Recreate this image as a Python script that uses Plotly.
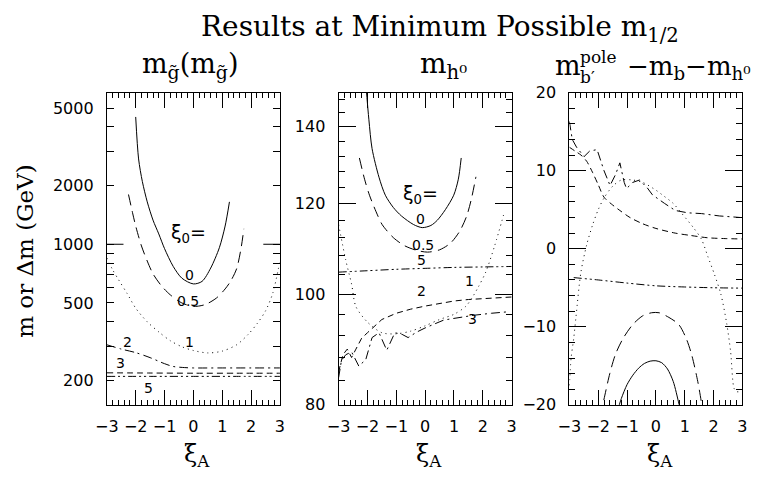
import math
import plotly.graph_objects as go

# ---------------- data: panel 1, gluino mass m_g~(m_g~) [GeV] ----------------
xi_g0 = [-2.0, -1.9, -1.77, -1.6, -1.4, -1.2, -1.0, -0.7, -0.4, 0.0, 0.3, 0.6, 0.9, 1.1, 1.25]
m_g0 = [4500, 2740, 2100, 1650, 1330, 1130, 950, 770, 670, 626, 645, 755, 960, 1240, 1650]

xi_g05 = [-2.25, -2.1, -2.0, -1.8, -1.6, -1.4, -1.1, -0.8, -0.4, 0.0, 0.4, 0.8, 1.1, 1.3, 1.5, 1.65, 1.75]
m_g05 = [1800, 1430, 1240, 980, 820, 705, 610, 550, 500, 480, 490, 530, 590, 650, 750, 950, 1200]

xi_g1 = [-3.0, -2.8, -2.6, -2.3, -2.0, -1.6, -1.2, -0.8, -0.4, 0.0, 0.5, 1.0, 1.5, 1.9, 2.2, 2.5, 2.75, 3.0]
m_g1 = [850, 740, 660, 560, 470, 400, 355, 320, 298, 285, 277, 283, 305, 345, 390, 455, 560, 820]

xi_g2 = [-3.0, -2.5, -2.0, -1.5, -1.0, -0.7, -0.3, 0.0, 1.0, 2.0, 3.0]
m_g2 = [305, 290, 278, 262, 244, 236, 233, 232, 232, 232, 232]

xi_g3 = [-3.0, -1.5, 0.0, 1.5, 3.0]
m_g3 = [219, 218.5, 218, 218, 218]

xi_g5 = [-3.0, -1.5, 0.0, 1.5, 3.0]
m_g5 = [210, 210, 210, 210, 210]

# ---------------- data: panel 2, light Higgs mass m_h0 [GeV] ----------------
xi_h0 = [-2.05, -1.95, -1.84, -1.6, -1.38, -1.1, -0.82, -0.4, -0.1, 0.2, 0.42, 0.7, 0.99, 1.15, 1.25]
m_h0 = [152, 142, 134, 126.5, 122, 119, 117, 115, 114.3, 114.8, 116, 118.5, 122, 126, 131.5]

xi_h05 = [-2.28, -2.1, -1.93, -1.7, -1.49, -1.1, -0.71, -0.3, 0.08, 0.5, 0.88, 1.2, 1.44, 1.6, 1.76]
m_h05 = [131.5, 126, 122, 118, 115, 112, 110.2, 109.2, 108.8, 109.3, 110.8, 113.5, 117, 121, 126.6]

xi_h1 = [-3.0, -2.75, -2.55, -2.4, -2.0, -1.5, -1.0, -0.5, 0.0, 0.5, 1.0, 1.4, 1.6, 1.85, 2.1, 2.4, 2.75]
m_h1 = [115, 107, 102, 97.5, 94.5, 92.5, 92.3, 92.8, 93.8, 95, 96, 97.5, 99, 101.5, 104.5, 110, 118]

xi_h2 = [-3.0, -2.85, -2.7, -2.55, -2.4, -2.2, -2.0, -1.8, -1.5, -1.0, -0.5, 0.0, 0.5, 1.0, 1.5, 2.0, 2.5, 3.0]
m_h2 = [85.5, 88.5, 89.5, 88.0, 89.5, 91.5, 92.5, 93.5, 95.0, 96.2, 97.0, 97.6, 98.1, 98.6, 98.9, 99.1, 99.3, 99.4]

xi_h3 = [-3.0, -2.9, -2.75, -2.55, -2.3, -2.06, -1.84, -1.6, -1.33, -1.05, -0.8, -0.59, -0.3, 0.0, 0.65, 1.2, 1.67, 2.3, 2.9]
m_h3 = [84.5, 87.5, 88.5, 89.0, 86.5, 87.6, 91.6, 92.5, 89.3, 92.5, 92.2, 91.6, 92.6, 93.4, 94.9, 95.4, 95.8, 96.2, 96.5]

xi_h5 = [-3.0, -2.0, -1.0, 0.0, 1.0, 2.0, 3.0]
m_h5 = [104.5, 104.8, 105.1, 105.3, 105.5, 105.6, 105.7]

# ---------------- data: panel 3, m_b'^pole - m_b - m_h0 [GeV] ----------------
xi_d0 = [-1.35, -1.2, -1.0, -0.8, -0.6, -0.4, -0.2, 0.0, 0.2, 0.4, 0.6, 0.8, 0.9]
d_0 = [-21.0, -19.2, -17.4, -16.2, -15.3, -14.7, -14.4, -14.35, -14.6, -15.4, -17.0, -19.9, -21.5]

xi_d05 = [-1.95, -1.83, -1.6, -1.4, -1.14, -0.8, -0.46, -0.15, 0.11, 0.45, 0.79, 1.05, 1.24, 1.45, 1.58, 1.65]
d_05 = [-21.5, -19.75, -16.0, -13.5, -11.5, -9.7, -8.6, -8.2, -8.2, -8.8, -9.7, -11.5, -13.6, -17.0, -19.75, -21.5]

xi_d1 = [-3.0, -2.94, -2.85, -2.77, -2.6, -2.4, -2.2, -2.0, -1.8, -1.5, -1.2, -0.8, -0.46, 0.0, 0.22, 0.6,
         0.9, 1.3, 1.58, 1.8, 2.03, 2.25, 2.45, 2.59, 2.71, 2.8, 2.95]
d_1 = [-17.5, -14.0, -11.5, -8.7, -3.0, 0.5, 3.0, 5.0, 6.5, 8.0, 8.8, 8.8, 8.5, 7.5, 6.9, 5.8,
       4.5, 2.7, 1.2, -1.0, -3.3, -5.8, -9.5, -13.2, -17.9, -18.3, -18.3]

xi_d2 = [-3.0, -2.8, -2.6, -2.4, -2.2, -2.0, -1.8, -1.5, -1.25, -0.9, -0.46, 0.0, 0.67, 1.2, 1.8, 2.4, 3.0]
d_2 = [13.0, 12.5, 12.0, 11.2, 9.8, 8.2, 6.6, 5.6, 4.9, 4.0, 3.2, 2.6, 2.0, 1.7, 1.4, 1.3, 1.25]

xi_d3 = [-3.0, -2.9, -2.75, -2.49, -2.3, -2.04, -1.8, -1.59, -1.4, -1.25, -1.1, -1.02, -0.8, -0.57, -0.3,
         -0.12, 0.3, 0.67, 1.1, 1.58, 2.2, 2.93]
d_3 = [16.3, 14.0, 13.0, 11.8, 12.5, 12.7, 10.0, 8.1, 9.5, 11.0, 8.5, 7.7, 8.5, 8.8, 7.8,
       6.9, 5.8, 4.9, 4.6, 4.5, 4.2, 4.0]

xi_d5 = [-2.85, -2.0, -1.0, 0.0, 1.0, 2.0, 3.0]
d_5 = [-3.7, -4.0, -4.4, -4.75, -4.9, -5.0, -5.05]

# curve labels (xi0 values) and where they sit: (text, xi, value)
labels_g = [("0", -0.12, 699), ("0.5", -0.19, 514), ("1", -0.13, 314),
            ("2", -2.28, 316), ("3", -2.53, 247), ("5", -1.54, 182)]
labels_h = [("0", -0.16, 116.2), ("0.5", -0.08, 110.4), ("5", -0.14, 107.0),
            ("2", -0.14, 100.6), ("1", 1.55, 102.6), ("3", 1.64, 95.0)]

# ---------------- styling ----------------
W, H = 768, 485
BLACK = "black"
TICKFONT = dict(family="DejaVu Sans", size=16, color=BLACK)
SERIF = "DejaVu Serif"

SOLID = "solid"
LONGDASH = "11px,6px"
DOTTED = "1px,4px"
DASHED = "6px,4px"
DASHDOT = "9px,4px,2px,4px"
DASHDOTDOT = "8px,3px,2px,3px,2px,3px"

# panel boxes in pixels
PANEL_X = [(97, 274), (334, 511), (570, 747)]
TOP, BOTTOM = 87, 412


def px(x):
    return x / W


def py(y):
    return (H - y) / H


fig = go.Figure()


def add_curve(xs, ys, dash, n, smooth=True):
    sfx = "" if n == 1 else str(n)
    fig.add_trace(go.Scatter(
        x=xs, y=ys, mode="lines",
        line=dict(color=BLACK, width=1, dash=dash,
                  shape="spline" if smooth else "linear", smoothing=0.8),
        xaxis="x" + sfx, yaxis="y" + sfx, showlegend=False, hoverinfo="skip"))


add_curve(xi_g0, m_g0, SOLID, 1)
add_curve(xi_g05, m_g05, LONGDASH, 1)
add_curve(xi_g1, m_g1, DOTTED, 1)
add_curve(xi_g2, m_g2, DASHDOT, 1)
add_curve(xi_g3, m_g3, DASHED, 1)
add_curve(xi_g5, m_g5, DASHDOTDOT, 1)

add_curve(xi_h0, m_h0, SOLID, 2)
add_curve(xi_h05, m_h05, LONGDASH, 2)
add_curve(xi_h1, m_h1, DOTTED, 2)
add_curve(xi_h2, m_h2, DASHED, 2, smooth=False)
add_curve(xi_h3, m_h3, DASHDOT, 2, smooth=False)
add_curve(xi_h5, m_h5, DASHDOTDOT, 2)

add_curve(xi_d0, d_0, SOLID, 3)
add_curve(xi_d05, d_05, LONGDASH, 3)
add_curve(xi_d1, d_1, DOTTED, 3)
add_curve(xi_d2, d_2, DASHED, 3)
add_curve(xi_d3, d_3, DASHDOT, 3, smooth=False)
add_curve(xi_d5, d_5, DASHDOTDOT, 3)


def xaxis_style(i):
    x0, x1 = PANEL_X[i]
    return dict(domain=[px(x0), px(x1)], range=[-3, 3], tick0=0, dtick=1,
                ticks="inside", ticklen=15, tickwidth=1, tickcolor=BLACK,
                showline=True, linecolor=BLACK, linewidth=1, mirror="allticks",
                showgrid=False, zeroline=False, tickfont=TICKFONT,
                ticklabelstandoff=7, anchor="y" if i == 0 else "y" + str(i + 1),
                minor=dict(dtick=0.2, ticks="inside", ticklen=5, tickwidth=1,
                           tickcolor=BLACK, showgrid=False))


ydom = [py(BOTTOM), py(TOP)]
common_y = dict(domain=ydom, ticks="inside", tickwidth=1, tickcolor=BLACK,
                showline=True, linecolor=BLACK, linewidth=1, mirror="allticks",
                showgrid=False, zeroline=False, tickfont=TICKFONT,
                ticklabelstandoff=9)

fig.update_layout(
    width=W, height=H, autosize=False, margin=dict(l=0, r=0, t=0, b=0),
    paper_bgcolor="white", plot_bgcolor="white",
    xaxis=xaxis_style(0), xaxis2=xaxis_style(1), xaxis3=xaxis_style(2),
    yaxis=dict(common_y, type="log", anchor="x",
               range=[math.log10(150), math.log10(6000)],
               tickmode="array", tickvals=[200, 500, 1000, 2000, 5000],
               ticktext=["200", "500", "1000", "2000", "5000"], ticklen=7,
               minor=dict(tickmode="array",
                          tickvals=[300, 400, 600, 700, 800, 900, 3000, 4000],
                          ticks="inside", ticklen=7, tickwidth=1, tickcolor=BLACK,
                          showgrid=False)),
    yaxis2=dict(common_y, type="log", anchor="x2",
                range=[math.log10(80), math.log10(150)],
                tickmode="array", tickvals=[80, 100, 120, 140],
                ticktext=["80", "100", "120", "140"], ticklen=17,
                minor=dict(tickmode="array",
                           tickvals=[84, 88, 92, 96, 104, 108, 112, 116, 124, 128,
                                     132, 136, 144, 148],
                           ticks="inside", ticklen=6, tickwidth=1, tickcolor=BLACK,
                           showgrid=False)),
    yaxis3=dict(common_y, anchor="x3", range=[-20, 20], tick0=0, dtick=10,
                ticklen=17,
                minor=dict(dtick=2, ticks="inside", ticklen=6, tickwidth=1,
                           tickcolor=BLACK, showgrid=False)),
)

# longer tick at 1000 GeV on both sides of the first panel
for a, b in [(0, 17 / 177), (1 - 17 / 177, 1)]:
    fig.add_shape(type="line", xref="x domain", yref="y", x0=a, x1=b, y0=1000, y1=1000,
                  line=dict(color=BLACK, width=1))

ann = []


def text(x, y, s, size, family=SERIF, xanchor="center", **kw):
    d = dict(x=px(x), y=py(y), xref="paper", yref="paper", text=s, showarrow=False,
             xanchor=xanchor, yanchor="middle",
             font=dict(family=family, size=size, color=BLACK))
    d.update(kw)
    ann.append(d)


# main title and panel titles
text(438, 20, "Results at Minimum Possible m<sub>1/2</sub>", 28)
text(182, 59, "m<sub>g̃</sub>(m<sub>g̃</sub>)", 27)
text(441, 59, "m<sub>h⁰</sub>", 28)
text(553, 59, "m", 27, xanchor="left")
text(579, 50, "pole", 17, xanchor="left")
text(579, 71, "b′", 17, xanchor="left")
text(627, 61, "−m<sub>b</sub>−m<sub>h⁰</sub>", 26, xanchor="left")

# axis titles
text(13, 252, "m or Δm (GeV)", 23, textangle=-90)
for x0, x1 in PANEL_X:
    text((x0 + x1) / 2 + 4, 465, "ξ<sub>A</sub>", 24)

# curve-family headers
text(180, 234, "ξ<sub>0</sub>=", 19, family="DejaVu Sans")
text(418, 193, "ξ<sub>0</sub>=", 19, family="DejaVu Sans")

fig.update_layout(annotations=ann)

for s, xi, v in labels_g:
    fig.add_annotation(x=xi, y=math.log10(v), xref="x", yref="y", text=s, showarrow=False,
                       font=dict(family="DejaVu Sans", size=14, color=BLACK))
for s, xi, v in labels_h:
    fig.add_annotation(x=xi, y=math.log10(v), xref="x2", yref="y2", text=s, showarrow=False,
                       font=dict(family="DejaVu Sans", size=14, color=BLACK))

fig.write_html("out.html", config={"responsive": False},
               post_script="document.body.style.margin='0';")
